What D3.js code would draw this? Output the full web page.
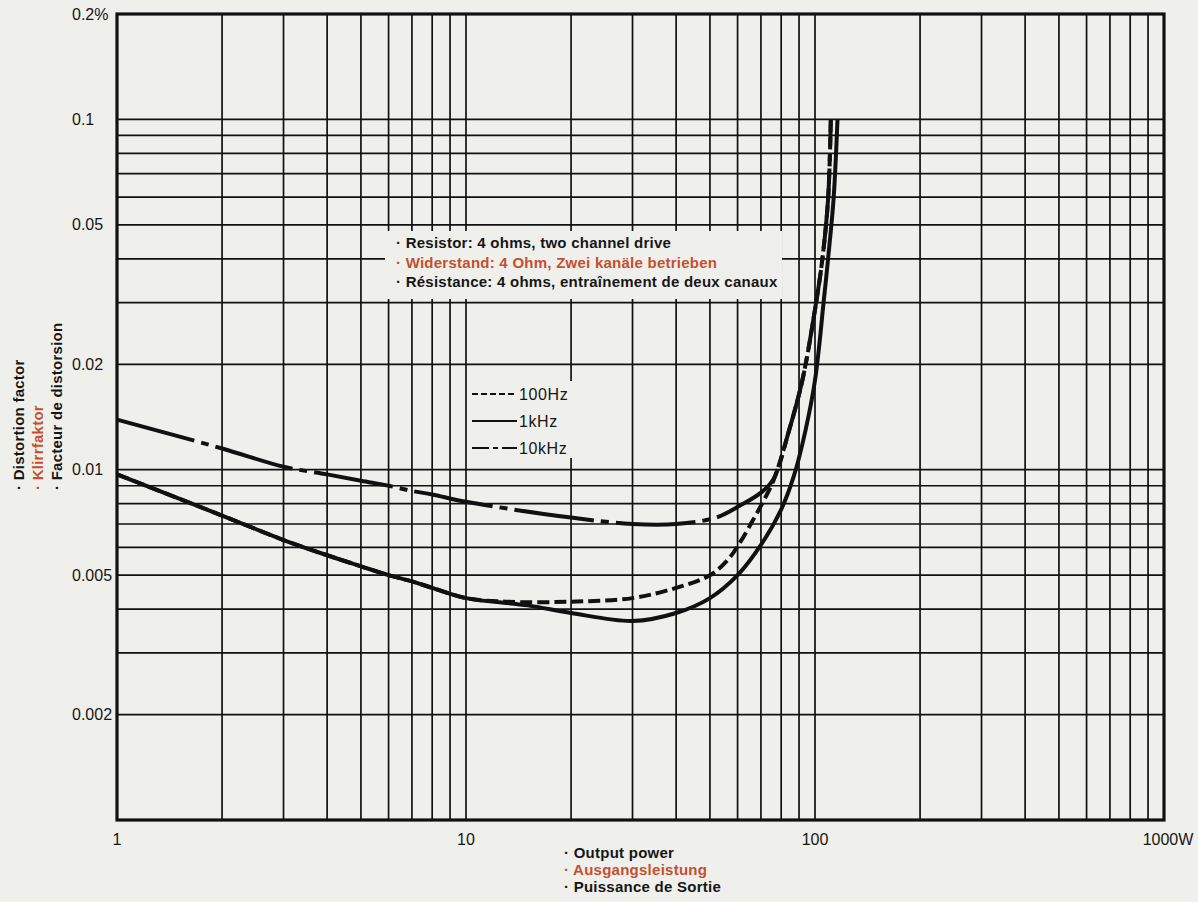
<html>
<head>
<meta charset="utf-8">
<title>Distortion factor vs output power</title>
<script src="https://d3js.org/d3.v7.min.js"></script>
<style>
body { margin: 0; background: #efefec; }
svg { display: block; font-family: 'Liberation Sans', Arial, Helvetica, sans-serif; }
.grid line { stroke: #111; stroke-width: 1.7; }
.tick-label { font-size: 16px; fill: #161616; }
.note { font-size: 15px; font-weight: bold; fill: #161616; letter-spacing: 0.25px; }
.red { fill: #c4502f; }
.legend-text { font-size: 16px; fill: #161616; letter-spacing: 0.6px; }
.curve { fill: none; stroke: #111; stroke-width: 4; stroke-linejoin: round; }
</style>
</head>
<body>
<div id="plot"></div>

<script>
// Output power (W) vs distortion factor (%)
var hz100 = [
  [1, 0.0097], [2, 0.0074], [3, 0.0063], [4, 0.0057], [5, 0.0053], [6, 0.0050],
  [7, 0.0048], [8, 0.0046], [10, 0.0043], [13, 0.0042], [20, 0.0042], [30, 0.0043],
  [40, 0.0046], [50, 0.0050], [56, 0.0055], [61, 0.0062], [66, 0.0071], [71, 0.0081],
  [76, 0.0093], [84, 0.0128], [92, 0.018], [101, 0.0305], [105, 0.040], [109, 0.059], [111, 0.1]
];
var khz1 = [
  [1, 0.0097], [2, 0.0074], [3, 0.0063], [4, 0.0057], [5, 0.0053], [6, 0.0050],
  [7, 0.0048], [8, 0.0046], [10, 0.0043], [15, 0.0041], [20, 0.0039], [30, 0.0037],
  [40, 0.0039], [50, 0.0043], [60, 0.0050], [70, 0.0061], [80, 0.0077], [87, 0.0096],
  [94, 0.013], [100, 0.018], [106, 0.0305], [109, 0.040], [113, 0.059], [116, 0.1]
];
var khz10 = [
  [1, 0.0139], [2, 0.0115], [3, 0.0102], [4, 0.0097], [5, 0.0093], [6, 0.0090],
  [7, 0.0087], [8, 0.0085], [10, 0.0081], [20, 0.0073], [30, 0.0070], [40, 0.0070],
  [52, 0.0073], [61, 0.0079], [70, 0.0086], [76, 0.0094], [84, 0.0128], [92, 0.018],
  [101, 0.0305], [105, 0.040], [109, 0.059], [111, 0.1]
];

var seriesNames = ["100Hz", "1kHz", "10kHz"];
var seriesDash = ["12,5", null, "80,7,8,7"];
var legendDash = ["6,3", null, "17,4,5,4"];

var yTicks = [0.2, 0.1, 0.05, 0.02, 0.01, 0.005, 0.002];
var yTickText = ["0.2%", "0.1", "0.05", "0.02", "0.01", "0.005", "0.002"];
var xTicks = [1, 10, 100, 1000];
var xTickText = ["1", "10", "100", "1000W"];

var yTitle = ["Distortion factor", "Klirrfaktor", "Facteur de distorsion"];
var xTitle = ["Output power", "Ausgangsleistung", "Puissance de Sortie"];
var note = ["Resistor: 4 ohms, two channel drive",
            "Widerstand: 4 Ohm, Zwei kanäle betrieben",
            "Résistance: 4 ohms, entraînement de deux canaux"];

var width = 1198, height = 902;
// plot box edges (note: "top" is reserved on window)
var pLeft = 117, pRight = 1164, pTop = 14, pBottom = 820;
var paper = "#efefec";

var svg = d3.select("#plot").append("svg")
  .attr("width", width).attr("height", height);

var xScale = d3.scaleLog().domain([1, 1000]).range([pLeft, pRight]);
var yScale = d3.scaleLog().domain([0.001, 0.2]).range([pBottom, pTop]);

// log paper grid
var grid = svg.append("g").attr("class", "grid");
grid.selectAll("line.v").data(xScale.ticks()).enter().append("line")
  .attr("x1", d => xScale(d)).attr("x2", d => xScale(d))
  .attr("y1", pTop).attr("y2", pBottom);
grid.selectAll("line.h").data(yScale.ticks()).enter().append("line")
  .attr("x1", pLeft).attr("x2", pRight)
  .attr("y1", d => yScale(d)).attr("y2", d => yScale(d));

// the printed notes sit on blank patches of the grid
svg.append("rect").attr("x", 385).attr("y", 231).attr("width", 397).attr("height", 68)
  .style("fill", paper);
svg.append("rect").attr("x", 469).attr("y", 381).attr("width", 106).attr("height", 77)
  .style("fill", paper);

// frame
svg.append("rect")
  .attr("x", pLeft).attr("y", pTop)
  .attr("width", pRight - pLeft).attr("height", pBottom - pTop)
  .style("fill", "none").style("stroke", "#111").style("stroke-width", 3.2);

// tick labels
svg.selectAll("text.ylab").data(yTicks).enter().append("text")
  .attr("class", "tick-label")
  .attr("x", 72).attr("y", d => yScale(d) + 5.5)
  .text((d, i) => yTickText[i]);
svg.selectAll("text.xlab").data(xTicks).enter().append("text")
  .attr("class", "tick-label")
  .attr("text-anchor", "middle")
  .attr("x", (d, i) => xScale(d) + (i == 3 ? 4 : 0)).attr("y", 845)
  .text((d, i) => xTickText[i]);

// curves
var line = d3.line()
  .x(d => xScale(d[0]))
  .y(d => yScale(d[1]))
  .curve(d3.curveCatmullRom.alpha(0.5));

[hz100, khz1, khz10].forEach(function (s, i) {
  svg.append("path")
    .attr("class", "curve")
    .attr("d", line(s))
    .style("stroke-dasharray", seriesDash[i]);
});

// legend
seriesNames.forEach(function (name, i) {
  var y = 394 + i * 27;
  svg.append("line")
    .attr("x1", 472).attr("x2", 517).attr("y1", y).attr("y2", y)
    .style("stroke", "#111").style("stroke-width", 2)
    .style("stroke-dasharray", legendDash[i]);
  svg.append("text").attr("class", "legend-text")
    .attr("x", 519).attr("y", y + 6).text(name);
});

// condition note
note.forEach(function (t, i) {
  svg.append("text").attr("class", i == 1 ? "note red" : "note")
    .attr("x", 396).attr("y", 248 + i * 19.5)
    .text("· " + t);
});

// axis titles
xTitle.forEach(function (t, i) {
  svg.append("text").attr("class", i == 1 ? "note red" : "note")
    .attr("x", 564).attr("y", 858 + i * 17)
    .text("· " + t);
});
yTitle.forEach(function (t, i) {
  svg.append("text").attr("class", i == 1 ? "note red" : "note")
    .attr("transform", "translate(" + (24 + i * 19) + ",490) rotate(-90)")
    .text("· " + t);
});
</script>
</body>
</html>
